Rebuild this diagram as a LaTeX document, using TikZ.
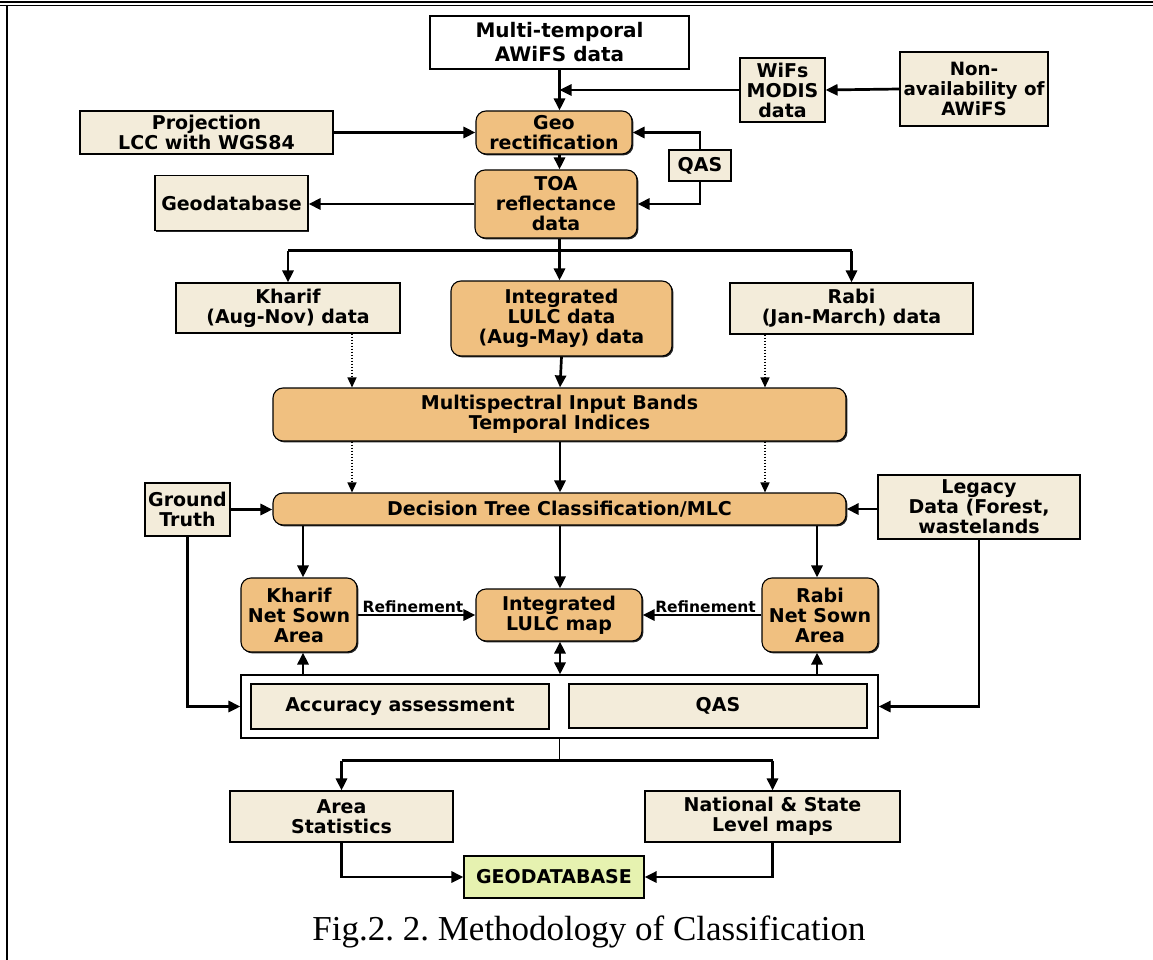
\documentclass[tikz,border=0pt]{standalone}
\usepackage{fontspec}
\setmainfont{DejaVu Sans}[BoldFont=DejaVu Sans Bold]
\newfontfamily\capfont{Liberation Serif}
\usetikzlibrary{arrows.meta,shadows}

\definecolor{beige}{RGB}{243,236,218}
\definecolor{peach}{RGB}{240,192,128}
\definecolor{lime}{RGB}{230,242,176}

\tikzset{
  bx/.style={draw, line width=1.1pt, align=center, inner sep=0pt,
    font=\bfseries\fontsize{19}{20}\selectfont,
    drop shadow={shadow xshift=1.4pt, shadow yshift=-1.4pt, fill=black, opacity=.85}},
  plain/.style={bx, fill=beige},
  soft/.style={bx, fill=peach, rounded corners=10pt},
  ln/.style={line width=2.7pt},
  arr/.style={ln, -{Triangle[length=12pt,width=11pt]}},
  darr/.style={ln, {Triangle[length=12pt,width=11pt]}-{Triangle[length=12pt,width=11pt]}},
  dot/.style={line width=1.4pt, dash pattern=on 1.6pt off 1.4pt, -{Triangle[length=10pt,width=9pt]}},
  lbl/.style={font=\bfseries\fontsize{15.5}{17}\selectfont, inner sep=1pt}
}

\begin{document}
\frenchspacing
\begin{tikzpicture}[x=1pt, y=-1pt]
\useasboundingbox (0,0) rectangle (1153,960);

% page frame
\draw[line width=1.3pt] (0,2) -- (1153,2);
\draw[line width=1.3pt] (0,5.8) -- (1153,5.8);
\draw[line width=2pt] (7,6) -- (7,960);

% input data
\node[bx, fill=white, minimum width=259, minimum height=53, font=\bfseries\fontsize{20}{24}\selectfont] (aw) at (559.5,42.5) {Multi-temporal\\AWiFS data};
\node[plain, minimum width=85, minimum height=64] (wifs) at (782.5,90) {WiFs\\MODIS\\data};
\node[plain, minimum width=148, minimum height=74, font=\bfseries\fontsize{18.3}{20}\selectfont] (non) at (974,89) {Non-\\availability of\\AWiFS};
\node[plain, minimum width=253, minimum height=43] (proj) at (206.5,132.5) {Projection\\LCC with WGS84};
\node[soft, minimum width=156, minimum height=43] (geo) at (554,132.5) {Geo\\rectification};
\node[plain, minimum width=62, minimum height=31] (qasa) at (700,165.5) {QAS};
\node[soft, minimum width=162, minimum height=68] (toa) at (556,204) {TOA\\reflectance\\data};
\node[plain, minimum width=153, minimum height=55] (gdb) at (231.5,203) {Geodatabase};

% seasonal data
\node[plain, minimum width=224, minimum height=50] (kh) at (288,308) {Kharif\\(Aug-Nov) data};
\node[soft, minimum width=221, minimum height=75] (integ) at (561.5,318.5) {Integrated\\LULC data\\(Aug-May) data};
\node[plain, minimum width=243, minimum height=51] (rabi) at (851.5,308.5) {Rabi\\(Jan-March) data};

% classification
\node[soft, minimum width=573, minimum height=53] (msb) at (559.5,414.5) {Multispectral Input Bands\\Temporal Indices};
\node[soft, minimum width=573, minimum height=32] (dt) at (559.5,509) {Decision Tree Classification/MLC};
\node[plain, minimum width=85, minimum height=53] (gt) at (187.5,509.5) {Ground\\Truth};
\node[plain, minimum width=202, minimum height=64] (leg) at (979,507) {Legacy\\Data (Forest,\\wastelands};

% outputs
\node[soft, minimum width=116, minimum height=74] (knsa) at (299,615) {Kharif\\Net Sown\\Area};
\node[soft, minimum width=166, minimum height=52] (ilm) at (559,615) {Integrated\\LULC map};
\node[soft, minimum width=116, minimum height=74] (rnsa) at (820,615) {Rabi\\Net Sown\\Area};

% quality checks
\node[bx, fill=white, minimum width=637, minimum height=63] (outer) at (559.5,706.5) {};
\node[plain, minimum width=298, minimum height=45] (acc) at (400,706.5) {Accuracy assessment};
\node[plain, minimum width=298, minimum height=44] (qasb) at (718,706) {QAS};

% products
\node[plain, minimum width=223, minimum height=51] (area) at (341.5,816.5) {Area\\Statistics};
\node[plain, minimum width=255, minimum height=51] (nat) at (772.5,816.5) {National \& State\\Level maps};
\node[bx, fill=lime, minimum width=180, minimum height=42] (fin) at (554,877) {GEODATABASE};

\node[font=\capfont\fontsize{35}{38}\selectfont, inner sep=0pt] (cap) at (589,932) {Fig.2. 2. Methodology of Classification};

% connectors: preprocessing
\draw[arr] (aw.south) -- (aw.south |- geo.north);
\draw[arr] (wifs.west) -- (wifs.west -| aw.south);
\draw[arr] (non.west) -- (wifs.east);
\draw[arr] (proj.east) -- (geo.west);
\draw[arr] (aw.south |- geo.south) -- (aw.south |- toa.north);
\draw[arr] (qasa.north) |- (geo.east);
\draw[arr] (qasa.south) |- (toa.east);
\draw[arr] (toa.west) -- (toa.west -| gdb.east);

% split into seasons
\draw[ln] (aw.south |- toa.south) -- ++(0,12) coordinate (b1);
\draw[ln] (kh.north |- b1) -- (rabi.north |- b1);
\draw[arr] (kh.north |- b1) -- (kh.north);
\draw[arr] (b1) -- (b1 |- integ.north);
\draw[arr] (rabi.north |- b1) -- (rabi.north);

% into bands and classifier
\coordinate (dl) at (352,0);
\coordinate (dm) at (560,0);
\coordinate (dr) at (765,0);
\draw[dot] (dl |- kh.south) -- (dl |- msb.north);
\draw[arr] (integ.south) -- (dm |- msb.north);
\draw[dot] (dr |- rabi.south) -- (dr |- msb.north);
\draw[dot] (dl |- msb.south) -- (dl |- dt.north);
\draw[arr] (dm |- msb.south) -- (dm |- dt.north);
\draw[dot] (dr |- msb.south) -- (dr |- dt.north);
\draw[arr] (gt.east) -- (gt.east -| dt.west);
\draw[arr] (leg.west |- dt.east) -- (dt.east);

% classifier outputs
\coordinate (kx) at (303,0);
\coordinate (rx) at (817,0);
\draw[arr] (kx |- dt.south) -- (kx |- knsa.north);
\draw[arr] (dm |- dt.south) -- (dm |- ilm.north);
\draw[arr] (rx |- dt.south) -- (rx |- rnsa.north);
\draw[arr] (knsa.east) -- node[lbl, above, pos=.47] {Refinement} (ilm.west);
\draw[arr] (rnsa.west) -- node[lbl, above, pos=.47] {Refinement} (ilm.east);

% assessment feedback
\draw[arr] (kx |- outer.north) -- (kx |- knsa.south);
\draw[darr] (dm |- ilm.south) -- (dm |- outer.north);
\draw[arr] (rx |- outer.north) -- (rx |- rnsa.south);
\draw[arr] (gt.south) |- (outer.west);
\draw[arr] (leg.south) |- (outer.east);

% products
\draw[line width=1.4pt] (outer.south) -- ++(0,22) coordinate (b2);
\draw[ln] (area.north |- b2) -- (nat.north |- b2);
\draw[arr] (area.north |- b2) -- (area.north);
\draw[arr] (nat.north |- b2) -- (nat.north);
\draw[arr] (area.south) |- (fin.west);
\draw[arr] (nat.south) |- (fin.east);
\end{tikzpicture}
\end{document}
